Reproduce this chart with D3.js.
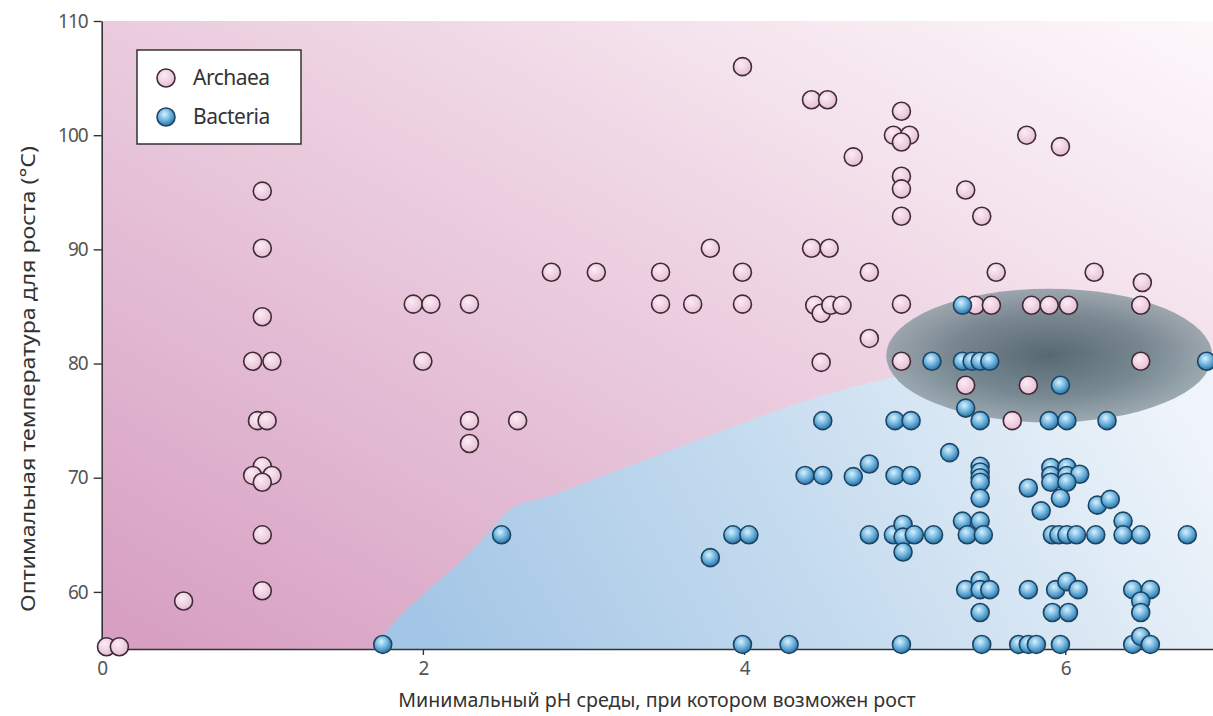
<!DOCTYPE html>
<html>
<head>
<meta charset="utf-8">
<script src="https://cdn.jsdelivr.net/npm/d3@7"></script>
<style>
  html, body { margin: 0; padding: 0; background: #fff; }
  svg { display: block; }
  text { font-family: "Noto Sans", "Open Sans", sans-serif; }
</style>
</head>
<body>
<svg id="chart" width="1213" height="716"></svg>
<script>
// Minimum growth pH vs optimal growth temperature, archaea and bacteria
const archaeaPH = [0.03, 0.11, 0.51,
  1.0, 1.0, 1.0, 0.94, 1.06, 0.97, 1.03, 1.0, 0.94, 1.06, 1.0, 1.0, 1.0,
  1.94, 2.05, 2.0, 2.29, 2.29, 2.29, 2.59,
  2.8, 3.08, 3.48, 3.48, 3.68, 3.79, 3.99, 3.99, 3.99,
  4.42, 4.52, 4.42, 4.53, 4.68, 4.78, 4.78,
  4.44, 4.48, 4.54, 4.61, 4.48,
  4.98, 4.93, 5.03, 4.98, 4.98, 4.98, 4.98, 4.98, 4.98,
  5.38, 5.48, 5.76, 5.97,
  5.44, 5.54, 5.57, 5.79, 5.90, 6.02, 6.18, 6.48, 6.47, 6.47,
  5.38, 5.77, 5.67];
const archaeaT = [55.2, 55.2, 59.2,
  95.1, 90.1, 84.1, 80.2, 80.2, 75.0, 75.0, 71.0, 70.2, 70.2, 69.6, 65.0, 60.1,
  85.2, 85.2, 80.2, 85.2, 75.0, 73.0, 75.0,
  88.0, 88.0, 88.0, 85.2, 85.2, 90.1, 88.0, 85.2, 106.0,
  103.1, 103.1, 90.1, 90.1, 98.1, 88.0, 82.2,
  85.1, 84.4, 85.1, 85.1, 80.1,
  102.1, 100.0, 100.0, 99.4, 96.4, 95.3, 92.9, 85.2, 80.2,
  95.2, 92.9, 100.0, 99.0,
  85.1, 85.1, 88.0, 85.1, 85.1, 85.1, 88.0, 87.1, 85.1, 80.2,
  78.1, 78.1, 75.0];

const bacteriaPH = [1.75, 2.49, 3.79, 3.93, 4.03, 3.99, 4.28,
  4.49, 4.94, 5.04, 4.38, 4.49, 4.68, 4.78, 4.94, 5.04,
  5.28,
  5.17, 5.36, 5.36, 5.42, 5.47, 5.53, 6.88,
  5.97, 5.38, 5.47, 5.90, 6.01, 6.26,
  5.47, 5.47, 5.47, 5.47, 5.47,
  5.77, 5.91, 6.01, 5.91, 6.01, 6.09, 5.91, 6.01,
  5.97, 5.85, 6.20, 6.28, 6.36,
  4.78, 4.93, 4.99, 4.99, 5.06, 5.18, 4.99,
  5.36, 5.47, 5.39, 5.49,
  5.92, 5.96, 6.01, 6.07, 6.19, 6.36, 6.47, 6.76,
  5.38, 5.47, 5.47, 5.53, 5.47,
  5.77, 5.94, 6.01, 6.08, 5.92, 6.02,
  6.42, 6.53, 6.47, 6.47,
  4.98, 5.48, 5.71, 5.77, 5.82, 5.97, 6.42, 6.47, 6.53];
const bacteriaT = [55.4, 65.0, 63.0, 65.0, 65.0, 55.4, 55.4,
  75.0, 75.0, 75.0, 70.2, 70.2, 70.1, 71.2, 70.2, 70.2,
  72.2,
  80.2, 85.1, 80.2, 80.2, 80.2, 80.2, 80.2,
  78.1, 76.1, 75.0, 75.0, 75.0, 75.0,
  71.0, 70.5, 70.0, 69.6, 68.2,
  69.1, 70.9, 70.9, 70.2, 70.2, 70.3, 69.6, 69.6,
  68.2, 67.1, 67.6, 68.1, 66.2,
  65.0, 65.0, 65.9, 64.8, 65.0, 65.0, 63.5,
  66.2, 66.2, 65.0, 65.0,
  65.0, 65.0, 65.0, 65.0, 65.0, 65.0, 65.0, 65.0,
  60.2, 61.0, 60.2, 60.2, 58.2,
  60.2, 60.2, 60.9, 60.2, 58.2, 58.2,
  60.2, 60.2, 59.2, 58.2,
  55.4, 55.4, 55.4, 55.4, 55.4, 55.4, 55.4, 56.1, 55.4];

// Upper edge of the bacterial domain (pH, °C)
const bacteriaZonePH = [1.68, 1.86, 2.06, 2.27, 2.44, 2.54, 2.79, 3.35, 4.87, 5.59, 6.92];
const bacteriaZoneT  = [55.0, 57.9, 60.5, 63.1, 65.7, 67.2, 68.4, 71.4, 78.6, 80.2, 81.0];

// Highlighted overlap region: centre and half-widths (pH, °C)
const overlapCentre = [5.90, 80.7];
const overlapRadius = [1.015, 5.86];

const xTicks = [0, 2, 4, 6];
const yTicks = [60, 70, 80, 90, 100, 110];
const seriesNames = ["Archaea", "Bacteria"];

const xTitle = "Минимальный pH среды, при котором возможен рост";
const yTitle = "Оптимальная температура для роста (°C)";

const svg = d3.select("#chart");
const x = d3.scaleLinear().domain([0, 6.92]).range([101.7, 1213]);
const y = d3.scaleLinear().domain([55, 110]).range([649, 21]);

const defs = svg.append("defs");

const bgGrad = defs.append("linearGradient").attr("id", "bgPink")
  .attr("x1", 0).attr("y1", 1).attr("x2", 1).attr("y2", 0);
bgGrad.append("stop").attr("offset", 0).attr("stop-color", "#d69dc1");
bgGrad.append("stop").attr("offset", 0.45).attr("stop-color", "#e8c7db");
bgGrad.append("stop").attr("offset", 0.8).attr("stop-color", "#f6e7ef");
bgGrad.append("stop").attr("offset", 1).attr("stop-color", "#fdf8fb");

const blueGrad = defs.append("linearGradient").attr("id", "zoneBlue")
  .attr("x1", 0).attr("y1", 0.6).attr("x2", 1).attr("y2", 0.4);
blueGrad.append("stop").attr("offset", 0).attr("stop-color", "#a4c6e6");
blueGrad.append("stop").attr("offset", 0.5).attr("stop-color", "#c6dcef");
blueGrad.append("stop").attr("offset", 1).attr("stop-color", "#eef4fa");

const ovGrad = defs.append("radialGradient").attr("id", "overlap")
  .attr("cx", 0.5).attr("cy", 0.5).attr("r", 0.5);
ovGrad.append("stop").attr("offset", 0).attr("stop-color", "#4f626c").attr("stop-opacity", 0.95);
ovGrad.append("stop").attr("offset", 0.6).attr("stop-color", "#6b7d86").attr("stop-opacity", 0.9);
ovGrad.append("stop").attr("offset", 1).attr("stop-color", "#8e9ca4").attr("stop-opacity", 0.85);

const pinkDot = defs.append("radialGradient").attr("id", "dotPink")
  .attr("cx", 0.4).attr("cy", 0.35).attr("r", 0.65);
pinkDot.append("stop").attr("offset", 0).attr("stop-color", "#fcecf4");
pinkDot.append("stop").attr("offset", 1).attr("stop-color", "#e6bfd5");

const blueDot = defs.append("radialGradient").attr("id", "dotBlue")
  .attr("cx", 0.42).attr("cy", 0.35).attr("r", 0.65);
blueDot.append("stop").attr("offset", 0).attr("stop-color", "#d9f1fc");
blueDot.append("stop").attr("offset", 0.55).attr("stop-color", "#6cb2de");
blueDot.append("stop").attr("offset", 1).attr("stop-color", "#2c72a4");

defs.append("clipPath").attr("id", "plotClip")
  .append("rect")
  .attr("x", x(0)).attr("y", y(110))
  .attr("width", x(6.92) - x(0)).attr("height", y(55) - y(110));

const plot = svg.append("g").attr("clip-path", "url(#plotClip)");

// Archaeal background
plot.append("rect")
  .attr("x", x(0)).attr("y", y(110))
  .attr("width", x(6.92) - x(0)).attr("height", y(55) - y(110))
  .attr("fill", "url(#bgPink)");

// Bacterial domain
const zonePts = bacteriaZonePH.map((p, i) => [x(p), y(bacteriaZoneT[i])]);
zonePts.push([x(6.92), y(55)]);
plot.append("path")
  .attr("d", d3.line().curve(d3.curveMonotoneX)(zonePts) + "Z")
  .attr("fill", "url(#zoneBlue)");

// Overlap ellipse
plot.append("ellipse")
  .attr("cx", x(overlapCentre[0])).attr("cy", y(overlapCentre[1]))
  .attr("rx", x(overlapCentre[0] + overlapRadius[0]) - x(overlapCentre[0]))
  .attr("ry", y(overlapCentre[1] - overlapRadius[1]) - y(overlapCentre[1]))
  .attr("fill", "url(#overlap)");

// Axes
const yAxis = svg.append("g")
  .attr("transform", `translate(${x(0)},0)`)
  .call(d3.axisLeft(y).tickValues(yTicks).tickSize(8).tickSizeOuter(0).tickPadding(6)
    .tickFormat(d3.format("d")));
const xAxis = svg.append("g")
  .attr("transform", `translate(0,${y(55)})`)
  .call(d3.axisBottom(x).tickValues(xTicks).tickSize(6).tickSizeOuter(0).tickPadding(7)
    .tickFormat(d3.format("d")));
[yAxis, xAxis].forEach(a => {
  a.select(".domain").attr("stroke", "#333").attr("stroke-width", 1.6);
  a.selectAll(".tick line").attr("stroke", "#333").attr("stroke-width", 1.4);
  a.selectAll(".tick text").attr("fill", "#555").attr("font-size", 19)
    .attr("letter-spacing", -1)
    .attr("font-family", "'Noto Sans', sans-serif");
});
xAxis.selectAll(".tick").filter(d => d === 0).select("line").remove();

// Points
const dots = svg.append("g");
dots.selectAll("circle.arch")
  .data(archaeaPH.map((p, i) => [p, archaeaT[i]]))
  .join("circle").attr("class", "arch")
  .attr("cx", d => x(d[0])).attr("cy", d => y(d[1])).attr("r", 9)
  .attr("fill", "url(#dotPink)").attr("stroke", "#3f2a38").attr("stroke-width", 1.6);
dots.selectAll("circle.bact")
  .data(bacteriaPH.map((p, i) => [p, bacteriaT[i]]))
  .join("circle").attr("class", "bact")
  .attr("cx", d => x(d[0])).attr("cy", d => y(d[1])).attr("r", 9)
  .attr("fill", "url(#dotBlue)").attr("stroke", "#1c4564").attr("stroke-width", 1.6);

// Legend
const legend = svg.append("g").attr("transform", "translate(137,50)");
legend.append("rect").attr("width", 164).attr("height", 94)
  .attr("fill", "#fff").attr("stroke", "#333").attr("stroke-width", 1.5);
seriesNames.forEach((name, i) => {
  const row = legend.append("g").attr("transform", `translate(29,${28 + i * 39})`);
  row.append("circle").attr("r", 9)
    .attr("fill", i === 0 ? "url(#dotPink)" : "url(#dotBlue)")
    .attr("stroke", i === 0 ? "#3f2a38" : "#1c4564").attr("stroke-width", 1.6);
  row.append("text").attr("x", 27).attr("y", 7)
    .attr("font-size", 21).attr("letter-spacing", -0.5).attr("fill", "#333").text(name);
});

// Axis titles
svg.append("text")
  .attr("x", 657).attr("y", 707).attr("text-anchor", "middle")
  .attr("font-size", 19.6).attr("fill", "#333").text(xTitle);
svg.append("text")
  .attr("transform", "translate(35,379) rotate(-90)")
  .attr("text-anchor", "middle")
  .attr("textLength", 466).attr("lengthAdjust", "spacingAndGlyphs")
  .attr("font-size", 20).attr("fill", "#333").text(yTitle);
</script>
</body>
</html>
